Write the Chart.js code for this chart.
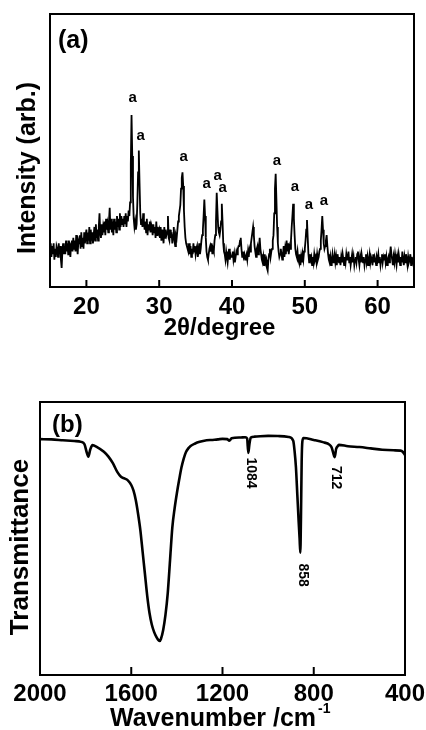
<!DOCTYPE html>
<html><head><meta charset="utf-8">
<script src="https://cdn.jsdelivr.net/npm/chart.js@4"></script>
<style>
html,body{margin:0;padding:0;background:#fff;}
#wrap{width:426px;height:730px;position:relative;overflow:hidden;background:#fff;}
canvas{display:block;}
</style></head><body>
<div id="wrap"><canvas id="xrd" width="426" height="360"></canvas><canvas id="ftir" width="426" height="370"></canvas></div>
<script>
// ---------- Panel (a): XRD (one row per degree, 0.1 degree steps) ----------
const xrdStart = 15, xrdStep = 0.1;
const xrdIntensity = [
  13, 16, 11, 15, 12, 16, 10, 14, 11, 15,
  14, 11, 16, 12, 15, 10, 7, 13, 16, 12,
  15, 12, 17, 13, 16, 12, 17, 14, 11, 16,
  17, 13, 18, 14, 17, 13, 19, 15, 12, 17,
  16, 19, 14, 20, 15, 18, 14, 20, 16, 19,
  21, 16, 20, 17, 22, 16, 21, 17, 20, 16,
  19, 22, 17, 23, 18, 21, 17, 22, 27, 20,
  18, 23, 19, 22, 20, 24, 19, 25, 21, 23,
  20, 24, 29, 21, 25, 20, 24, 19, 25, 21,
  24, 20, 26, 22, 25, 21, 27, 22, 26, 23,
  25, 22, 26, 23, 27, 22, 26, 24, 28, 26,
  31, 45, 63, 48, 33, 25, 22, 24, 21, 23,
  31, 42, 50, 38, 27, 23, 25, 22, 27, 24,
  21, 24, 20, 25, 19, 23, 21, 24, 20, 23,
  22, 19, 23, 20, 22, 18, 24, 19, 22, 20,
  21, 18, 22, 17, 21, 19, 16, 22, 18, 21,
  19, 20, 26, 18, 17, 21, 18, 20, 16, 19,
  22, 17, 15, 19, 18, 21, 24, 26, 28, 30,
  36, 40, 42, 37, 28, 22, 18, 16, 15, 14,
  13, 16, 12, 15, 11, 14, 12, 16, 13, 15,
  12, 14, 15, 11, 13, 16, 12, 14, 17, 19,
  21, 26, 32, 26, 18, 13, 11, 10, 12, 14,
  15, 13, 16, 12, 14, 13, 17, 19, 24, 34.5,
  28, 22, 20, 19, 21, 24, 30.5, 24, 16, 13,
  12, 10, 13, 11, 9, 12, 14, 10, 12, 11,
  11, 13, 10, 12, 9, 11, 13, 12, 14, 15,
  15, 17, 18, 14, 11, 13, 11, 12, 10, 11,
  12, 10, 13, 11, 14, 13, 16, 18, 20, 22,
  19, 15, 13, 11, 14, 15, 12, 14, 18, 14,
  12, 10, 9, 11, 8, 12, 9, 10, 7, 6,
  10, 12, 14, 11, 13, 14, 17, 19, 27, 36,
  41.5, 32, 22, 16, 13, 11, 12, 14, 12, 10,
  12, 15, 11, 14, 12, 17, 13, 16, 12, 15,
  14, 17, 22, 26, 30.5, 25, 19, 14, 12, 11,
  13, 10, 9, 12, 8, 11, 9, 12, 10, 13,
  14, 17, 21, 24.5, 18, 12, 9, 12, 10, 11,
  8, 11, 9, 12, 10, 11, 9, 12, 10, 11,
  13, 14, 17, 21, 26, 21, 16, 14, 15, 17,
  19, 15, 12, 10, 9, 11, 8, 10, 12, 9,
  10, 12, 9, 11, 8, 12, 10, 9, 11, 8,
  11, 9, 12, 10, 8, 11, 9, 12, 10, 11,
  13, 9, 11, 8, 10, 12, 9, 11, 8, 10,
  11, 9, 12, 13, 10, 8, 11, 9, 12, 10,
  9, 11, 8, 10, 12, 9, 11, 8, 10, 12,
  9, 11, 10, 8, 12, 9, 11, 10, 8, 11,
  10, 12, 9, 11, 8, 10, 12, 9, 11, 10,
  12, 9, 11, 8, 10, 11, 9, 12, 14.8, 12,
  10, 8, 11, 9, 12, 10, 8, 11, 9, 12,
  10, 8, 11, 9, 13, 10, 8, 11, 9, 12,
  10, 8, 11, 9, 10, 12, 8, 11, 9, 10,
  9
];
if (xrdIntensity.length !== 501) throw new Error('xrd length ' + xrdIntensity.length);
const xrdAngle = xrdIntensity.map((_, i) => +(xrdStart + xrdStep * i).toFixed(1));
const xrdTicks = [20, 30, 40, 50, 60];
const xrdMarkAngle = [26.34, 27.44, 33.36, 36.53, 38.04, 38.73, 46.17, 48.65, 50.58, 52.64];
const xrdMarkLevel = [69.2, 55.3, 47.6, 37.7, 40.7, 36.3, 46.2, 36.6, 30.0, 31.5];

// ---------- Panel (b): FTIR ----------
const ftirWavenumber = [2000,1950,1900,1850,1820,1805,1795,1788,1780,1770,1750,1720,1700,1680,1660,1645,1630,1615,1600,1590,1580,1570,1560,1550,1540,1530,1520,1510,1500,1490,1480,1475,1470,1460,1450,1440,1430,1420,1410,1400,1390,1380,1370,1360,1350,1340,1320,1300,1280,1250,1220,1200,1180,1170,1160,1120,1100,1092,1087,1082,1076,1060,1000,950,910,890,884,878,872,866,862,859,856,853,850,845,800,760,730,722,715,708,702,695,690,650,600,550,500,450,420,410,400];
const ftirTransmittance = [86.4,86.3,86.0,85.7,85.4,84.5,81.5,80.0,82.5,84.2,83.5,81.8,80.0,77.5,74.2,72.6,72.0,71.3,69.6,67.5,64,59,53,45,37,29,22.7,18.5,15.8,14,12.7,12.5,13.2,16.5,22,30,42,54,61,66.6,71.5,76,79.3,81.7,83,83.9,84.8,85.4,85.8,86.1,86.3,86.5,86.4,85.8,86.7,87,87.1,86.6,81.3,84.5,87,87.3,87.6,87.5,87.2,85.8,82,76,66,56,50,44.8,58,78,85.5,86.8,86.1,85.3,84.3,83.4,81.5,79.8,82.8,83.8,84.3,83.8,83.5,83,82.5,82.3,82.2,81.8,80.6];
if (ftirWavenumber.length !== ftirTransmittance.length) throw new Error('ftir length mismatch');
const ftirTicks = [2000, 1600, 1200, 800, 400];
const ftirMarkText = ['1084', '858', '712'];
const ftirMarkAt = [1075, 849, 702];
const ftirMarkLevel = [74, 36.6, 72.3];

const FONT = '"Liberation Sans", Arial, Helvetica, sans-serif';

function fixedScale(size, horizontal) {
  return function (s) {
    if (horizontal) s.height = size; else s.width = size;
    s.paddingLeft = 0; s.paddingRight = 0; s.paddingTop = 0; s.paddingBottom = 0;
  };
}

function drawFrame(chart, ticks, tickLen) {
  const ctx = chart.ctx, a = chart.chartArea, xs = chart.scales.x;
  ctx.save();
  ctx.strokeStyle = '#000';
  ctx.lineWidth = 2;
  ctx.strokeRect(a.left, a.top, a.right - a.left, a.bottom - a.top);
  ticks.forEach(v => {
    const px = xs.getPixelForValue(v);
    ctx.beginPath(); ctx.moveTo(px, a.bottom); ctx.lineTo(px, a.bottom - tickLen); ctx.stroke();
  });
  ctx.restore();
}

const xrdDecor = {
  id: 'xrdDecor',
  afterDraw(chart) {
    drawFrame(chart, xrdTicks, 7);
    const ctx = chart.ctx, xs = chart.scales.x, ys = chart.scales.y;
    ctx.save();
    ctx.fillStyle = '#000';
    ctx.font = `bold 15px ${FONT}`; ctx.textAlign = 'center'; ctx.textBaseline = 'middle';
    xrdMarkAngle.forEach((v, i) => ctx.fillText('a', xs.getPixelForValue(v), ys.getPixelForValue(xrdMarkLevel[i])));
    ctx.font = `bold 25px ${FONT}`; ctx.textAlign = 'left';
    ctx.fillText('(a)', 58, 41);
    ctx.textAlign = 'center'; ctx.textBaseline = 'alphabetic';
    ctx.font = `bold 24px ${FONT}`;
    ctx.fillText('2\u03b8/degree', 219.5, 335);
    ctx.translate(35, 168); ctx.rotate(-Math.PI / 2);
    ctx.font = `bold 25px ${FONT}`;
    ctx.fillText('Intensity (arb.)', 0, 0);
    ctx.restore();
  }
};

const ftirDecor = {
  id: 'ftirDecor',
  afterDraw(chart) {
    drawFrame(chart, ftirTicks, 8);
    const ctx = chart.ctx, xs = chart.scales.x, ys = chart.scales.y;
    ctx.save();
    ctx.fillStyle = '#000';
    ctx.font = `bold 24px ${FONT}`; ctx.textAlign = 'left'; ctx.textBaseline = 'middle';
    ctx.fillText('(b)', 52, 65);
    ctx.textBaseline = 'alphabetic';
    ctx.font = `bold 25px ${FONT}`;
    const main = 'Wavenumber /cm';
    ctx.fillText(main, 110, 366);
    const w = ctx.measureText(main).width;
    ctx.font = `bold 14px ${FONT}`;
    ctx.fillText('-1', 110 + w + 2, 353);
    ctx.font = `bold 14px ${FONT}`; ctx.textAlign = 'center'; ctx.textBaseline = 'middle';
    ftirMarkText.forEach((t, i) => {
      ctx.save();
      ctx.translate(xs.getPixelForValue(ftirMarkAt[i]), ys.getPixelForValue(ftirMarkLevel[i]));
      ctx.rotate(Math.PI / 2);
      ctx.fillText(t, 0, 0);
      ctx.restore();
    });
    ctx.save();
    ctx.translate(28, 187); ctx.rotate(-Math.PI / 2);
    ctx.font = `bold 26px ${FONT}`; ctx.textAlign = 'center'; ctx.textBaseline = 'alphabetic';
    ctx.fillText('Transmittance', 0, 0);
    ctx.restore();
    ctx.restore();
  }
};

Chart.defaults.font.family = FONT;
Chart.defaults.color = '#000';

const plainTick = v => String(v);

new Chart(document.getElementById('xrd'), {
  type: 'line',
  data: {
    datasets: [{
      data: xrdAngle.map((x, i) => ({ x, y: xrdIntensity[i] })),
      borderColor: '#000', borderWidth: 1.8, pointRadius: 0, tension: 0, fill: false
    }]
  },
  options: {
    responsive: false, animation: false, events: [],
    layout: { padding: { top: 14, right: 12, left: 0, bottom: 0 } },
    plugins: { legend: { display: false }, tooltip: { enabled: false } },
    scales: {
      x: {
        type: 'linear', min: 15, max: 65,
        afterBuildTicks: s => { s.ticks = xrdTicks.map(v => ({ value: v })); },
        afterFit: fixedScale(73, true),
        grid: { display: false, drawTicks: false }, border: { display: false },
        ticks: { callback: plainTick, padding: 6, autoSkip: false, maxRotation: 0, color: '#000', font: { size: 24, weight: 'bold', family: FONT } }
      },
      y: {
        min: 0, max: 100,
        afterFit: fixedScale(50, false),
        grid: { display: false, drawTicks: false }, border: { display: false },
        ticks: { display: false }
      }
    }
  },
  plugins: [xrdDecor]
});

new Chart(document.getElementById('ftir'), {
  type: 'line',
  data: {
    datasets: [{
      data: ftirWavenumber.map((x, i) => ({ x, y: ftirTransmittance[i] })),
      borderColor: '#000', borderWidth: 2.6, pointRadius: 0, cubicInterpolationMode: 'monotone', fill: false,
      borderJoinStyle: 'round', borderCapStyle: 'round'
    }]
  },
  options: {
    responsive: false, animation: false, events: [],
    layout: { padding: { top: 42, right: 21, left: 0, bottom: 0 } },
    plugins: { legend: { display: false }, tooltip: { enabled: false } },
    scales: {
      x: {
        type: 'linear', min: 400, max: 2000, reverse: true,
        afterBuildTicks: s => { s.ticks = ftirTicks.map(v => ({ value: v })); },
        afterFit: fixedScale(55, true),
        grid: { display: false, drawTicks: false }, border: { display: false },
        ticks: { callback: plainTick, padding: 5, autoSkip: false, maxRotation: 0, color: '#000', font: { size: 24, weight: 'bold', family: FONT } }
      },
      y: {
        min: 0, max: 100,
        afterFit: fixedScale(40, false),
        grid: { display: false, drawTicks: false }, border: { display: false },
        ticks: { display: false }
      }
    }
  },
  plugins: [ftirDecor]
});
</script>
</body></html>
